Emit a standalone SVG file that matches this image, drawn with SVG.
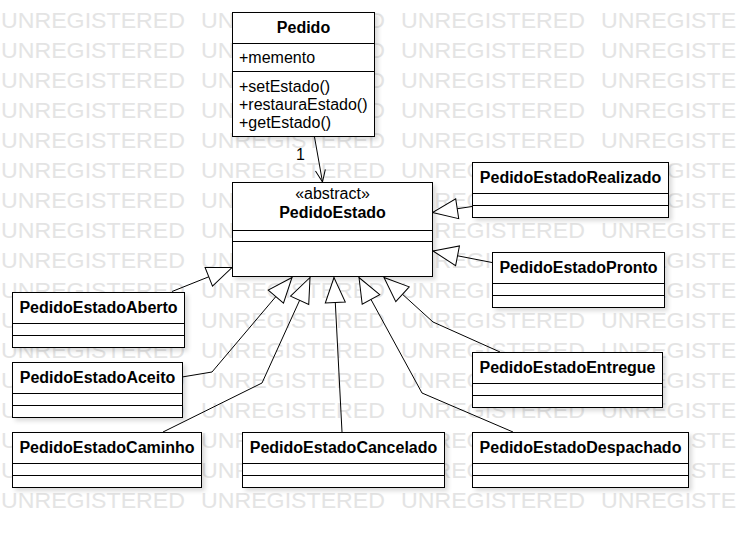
<svg xmlns="http://www.w3.org/2000/svg" xmlns:xlink="http://www.w3.org/1999/xlink" width="737" height="537" viewBox="0 0 737 537">
<defs>
<style>
.wm{font-family:"Liberation Sans",Arial,sans-serif;font-size:21.6px;fill:#e4e4e4}
.box{fill:#fff;stroke:#000;stroke-width:1;filter:url(#sh)}
.div{stroke:#000;stroke-width:1}
.t{font-family:"Liberation Sans",Arial,sans-serif;font-size:16px;fill:#000}
.b{font-weight:bold;text-anchor:middle}
.c{text-anchor:middle}
.edge{fill:none;stroke:#000;stroke-width:1}
.gen{marker-end:url(#tri)}
.assoc{marker-end:url(#open)}
</style>
<filter id="sh" x="-10%" y="-10%" width="130%" height="140%">
<feDropShadow dx="3" dy="3" stdDeviation="2" flood-color="#000" flood-opacity="0.14"/>
</filter>
<marker id="tri" markerUnits="userSpaceOnUse" markerWidth="30" markerHeight="24" refX="25" refY="10" orient="auto" overflow="visible">
<path d="M25,10 L0,0 L0,20 Z" fill="#fff" stroke="#000" stroke-width="1"/>
</marker>
<marker id="open" markerUnits="userSpaceOnUse" markerWidth="16" markerHeight="14" refX="12" refY="5" orient="auto" overflow="visible">
<path d="M0,0 L12,5 L0,10" fill="none" stroke="#000" stroke-width="1"/>
</marker>
<text id="wmrow" class="wm"><tspan x="1" textLength="184" lengthAdjust="spacingAndGlyphs">UNREGISTERED</tspan><tspan x="201" textLength="184" lengthAdjust="spacingAndGlyphs">UNREGISTERED</tspan><tspan x="401" textLength="184" lengthAdjust="spacingAndGlyphs">UNREGISTERED</tspan><tspan x="601" textLength="184" lengthAdjust="spacingAndGlyphs">UNREGISTERED</tspan></text>
</defs>
<rect width="737" height="537" fill="#fff"/>
<g id="watermark">
<use xlink:href="#wmrow" y="28"/><use xlink:href="#wmrow" y="58"/><use xlink:href="#wmrow" y="88"/><use xlink:href="#wmrow" y="118"/>
<use xlink:href="#wmrow" y="148"/><use xlink:href="#wmrow" y="178"/><use xlink:href="#wmrow" y="208"/><use xlink:href="#wmrow" y="238"/>
<use xlink:href="#wmrow" y="268"/><use xlink:href="#wmrow" y="298"/><use xlink:href="#wmrow" y="328"/><use xlink:href="#wmrow" y="358"/>
<use xlink:href="#wmrow" y="388"/><use xlink:href="#wmrow" y="418"/><use xlink:href="#wmrow" y="448"/><use xlink:href="#wmrow" y="478"/>
<use xlink:href="#wmrow" y="508"/>
</g>
<g id="connectors">
<path class="edge assoc" d="M314.5,137 L322.5,182"/>
<text class="t" x="296" y="160">1</text>
<path class="edge gen" d="M472,206.5 L432.5,212.5"/>
<path class="edge gen" d="M492,262.5 L433,251"/>
<path class="edge gen" d="M172,291.5 L232,267.5"/>
<path class="edge gen" d="M182,377 L212,372 L292,277.5"/>
<path class="edge gen" d="M163,432 L262,383 L310,277.5"/>
<path class="edge gen" d="M342,432 L334,277.5"/>
<path class="edge gen" d="M513,432 L422,393 L359,277.5"/>
<path class="edge gen" d="M500,352 L433,322 L384,277.5"/>
</g>
<g id="Pedido">
<rect class="box" x="232.5" y="12.5" width="142" height="124"/>
<line class="div" x1="232.5" y1="43.5" x2="374.5" y2="43.5"/>
<line class="div" x1="232.5" y1="71.5" x2="374.5" y2="71.5"/>
<text class="t b" x="303.5" y="33">Pedido</text>
<text class="t" x="239" y="63">+memento</text>
<text class="t" x="239" y="92">+setEstado()</text>
<text class="t" x="239" y="110">+restauraEstado()</text>
<text class="t" x="239" y="128">+getEstado()</text>
</g>
<g id="PedidoEstado">
<rect class="box" x="232.5" y="182.5" width="200" height="94"/>
<line class="div" x1="232.5" y1="230.5" x2="432.5" y2="230.5"/>
<line class="div" x1="232.5" y1="241.5" x2="432.5" y2="241.5"/>
<text class="t c" x="332.5" y="199">«abstract»</text>
<text class="t b" x="332.5" y="218">PedidoEstado</text>
</g>
<g id="PedidoEstadoRealizado">
<rect class="box" x="472.5" y="162.5" width="196" height="55"/>
<line class="div" x1="472.5" y1="193.5" x2="668.5" y2="193.5"/>
<line class="div" x1="472.5" y1="205.5" x2="668.5" y2="205.5"/>
<text class="t b" x="570.5" y="183">PedidoEstadoRealizado</text>
</g>
<g id="PedidoEstadoPronto">
<rect class="box" x="492.5" y="252.5" width="172" height="55"/>
<line class="div" x1="492.5" y1="283.5" x2="664.5" y2="283.5"/>
<line class="div" x1="492.5" y1="295.5" x2="664.5" y2="295.5"/>
<text class="t b" x="578.5" y="273">PedidoEstadoPronto</text>
</g>
<g id="PedidoEstadoAberto">
<rect class="box" x="12.5" y="292.5" width="172" height="55"/>
<line class="div" x1="12.5" y1="323.5" x2="184.5" y2="323.5"/>
<line class="div" x1="12.5" y1="335.5" x2="184.5" y2="335.5"/>
<text class="t b" x="98.5" y="313">PedidoEstadoAberto</text>
</g>
<g id="PedidoEstadoAceito">
<rect class="box" x="12.5" y="362.5" width="170" height="55"/>
<line class="div" x1="12.5" y1="393.5" x2="182.5" y2="393.5"/>
<line class="div" x1="12.5" y1="405.5" x2="182.5" y2="405.5"/>
<text class="t b" x="97.5" y="383">PedidoEstadoAceito</text>
</g>
<g id="PedidoEstadoCaminho">
<rect class="box" x="12.5" y="432.5" width="189" height="55"/>
<line class="div" x1="12.5" y1="463.5" x2="201.5" y2="463.5"/>
<line class="div" x1="12.5" y1="475.5" x2="201.5" y2="475.5"/>
<text class="t b" x="107" y="453">PedidoEstadoCaminho</text>
</g>
<g id="PedidoEstadoCancelado">
<rect class="box" x="242.5" y="432.5" width="202" height="55"/>
<line class="div" x1="242.5" y1="463.5" x2="444.5" y2="463.5"/>
<line class="div" x1="242.5" y1="475.5" x2="444.5" y2="475.5"/>
<text class="t b" x="343.5" y="453">PedidoEstadoCancelado</text>
</g>
<g id="PedidoEstadoEntregue">
<rect class="box" x="472.5" y="352.5" width="190" height="55"/>
<line class="div" x1="472.5" y1="383.5" x2="662.5" y2="383.5"/>
<line class="div" x1="472.5" y1="395.5" x2="662.5" y2="395.5"/>
<text class="t b" x="567.5" y="373">PedidoEstadoEntregue</text>
</g>
<g id="PedidoEstadoDespachado">
<rect class="box" x="472.5" y="432.5" width="216" height="55"/>
<line class="div" x1="472.5" y1="463.5" x2="688.5" y2="463.5"/>
<line class="div" x1="472.5" y1="475.5" x2="688.5" y2="475.5"/>
<text class="t b" x="580.5" y="453">PedidoEstadoDespachado</text>
</g>
</svg>
